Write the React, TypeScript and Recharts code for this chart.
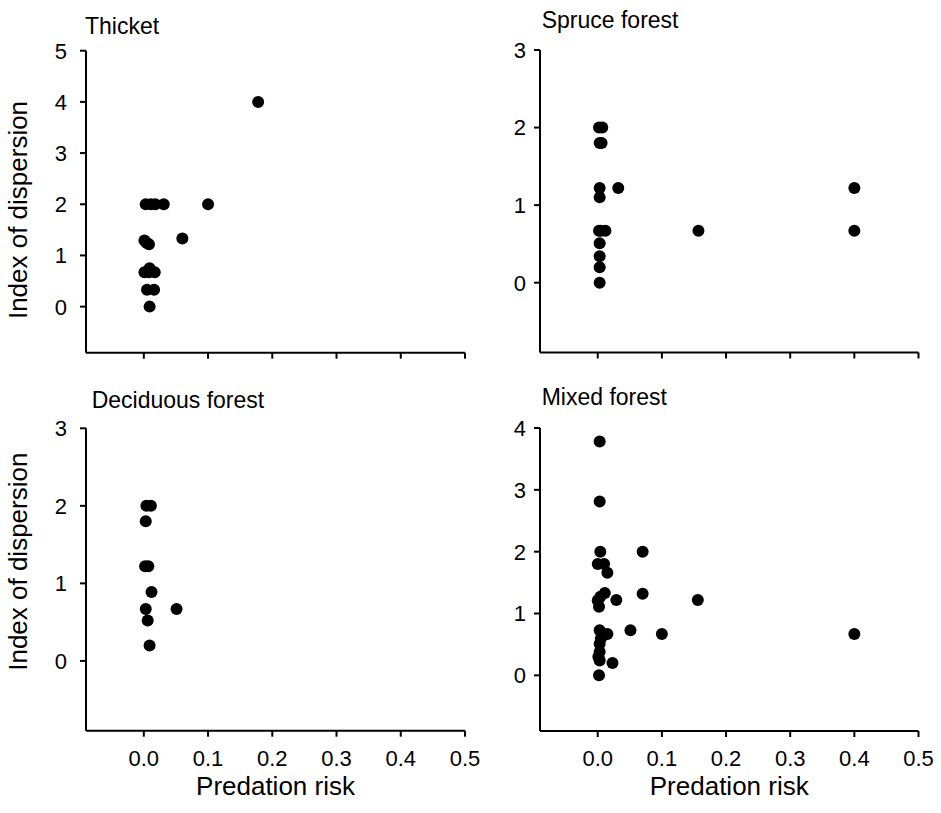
import React from 'react';
import { ScatterChart, Scatter, XAxis, YAxis, Customized } from 'recharts';

const FONT = '"Liberation Sans", Arial, Helvetica, sans-serif';

// Thicket
const thicketRisk = [0.178, 0.003, 0.018, 0.031, 0.1, 0.06, 0.001, 0.004, 0.008, 0.001, 0.009, 0.017, 0.005, 0.016, 0.009, 0.008, 0.011];
const thicketDispersion = [4.0, 2.0, 2.0, 2.0, 2.0, 1.33, 1.29, 1.25, 1.22, 0.67, 0.75, 0.67, 0.33, 0.33, 0.0, 0.67, 2.0];

// Spruce forest
const spruceRisk = [0.002, 0.007, 0.003, 0.006, 0.003, 0.032, 0.003, 0.002, 0.012, 0.005, 0.003, 0.003, 0.003, 0.003, 0.157, 0.4, 0.4];
const spruceDispersion = [2.0, 2.0, 1.8, 1.8, 1.22, 1.22, 1.1, 0.67, 0.67, 0.67, 0.51, 0.34, 0.2, 0.0, 0.67, 1.22, 0.67];

// Deciduous forest
const deciduousRisk = [0.004, 0.011, 0.003, 0.002, 0.007, 0.012, 0.003, 0.051, 0.006, 0.009];
const deciduousDispersion = [2.0, 2.0, 1.8, 1.22, 1.22, 0.89, 0.67, 0.67, 0.52, 0.2];

// Mixed forest
const mixedRisk = [0.003, 0.003, 0.004, 0.07, 0.0, 0.01, 0.015, 0.011, 0.004, 0.0, 0.002, 0.029, 0.07, 0.156, 0.003, 0.015, 0.051, 0.1, 0.4, 0.003, 0.003, 0.003, 0.023, 0.002, 0.001, 0.005];
const mixedDispersion = [3.78, 2.81, 2.0, 2.0, 1.8, 1.8, 1.66, 1.33, 1.27, 1.21, 1.11, 1.22, 1.32, 1.22, 0.73, 0.67, 0.73, 0.67, 0.67, 0.51, 0.38, 0.24, 0.2, 0.0, 0.3, 0.6];

const xTicks = [0, 0.1, 0.2, 0.3, 0.4, 0.5];

const toData = (xs: number[], ys: number[]) => xs.map((x, i) => ({ x, y: ys[i] }));

const Dot = (props: any) => <circle cx={props.cx} cy={props.cy} r={6} fill="#000" />;

const tickTextStyle: React.CSSProperties = { fontSize: '22px', fontFamily: FONT, fill: '#000' };

const makeXTick = (show: boolean) => (props: any) => {
  const { x, y, payload } = props;
  return (
    <g transform={`translate(${x},${y})`}>
      {show ? (
        <text x={0} y={0} dy="0.72em" textAnchor="middle" style={tickTextStyle}>
          {Number(payload.value).toFixed(1)}
        </text>
      ) : null}
    </g>
  );
};

const YTickLabel = (props: any) => {
  const { x, y, payload } = props;
  return (
    <g transform={`translate(${x},${y})`}>
      <text x={0} y={0} dy="0.36em" textAnchor="end" style={tickTextStyle}>
        {String(payload.value)}
      </text>
    </g>
  );
};

type PanelProps = {
  title: string;
  titleX: number;
  titleY: number;
  xs: number[];
  ys: number[];
  yMax: number;
  L0: number;
  T0: number;
  plotLeft: number;
  plotTop: number;
  plotRight: number;
  plotBottom: number;
  showXLabels: boolean;
  showYTitle: boolean;
  yTitleCenter: number;
  yTickMargin: number;
};

const Panel = (p: PanelProps) => {
  const rightPad = 20;
  const width = p.plotRight + rightPad - p.L0;
  const xAxisHeight = 70;
  const height = p.plotBottom + xAxisHeight - p.T0;
  const yTicks = Array.from({ length: p.yMax + 1 }, (_, i) => i);
  const data = toData(p.xs, p.ys);
  const axisStyle = { stroke: '#000', strokeWidth: 2 };
  const XTick = makeXTick(p.showXLabels);
  return (
    <div style={{ position: 'absolute', left: p.L0, top: p.T0, width, height }}>
      <ScatterChart
        width={width}
        height={height}
        margin={{ top: p.plotTop - p.T0, right: rightPad, bottom: 0, left: 0 }}
      >
        <XAxis
          type="number"
          dataKey="x"
          domain={[-0.09, 0.5]}
          ticks={xTicks}
          allowDataOverflow
          height={xAxisHeight}
          axisLine={axisStyle}
          tickLine={axisStyle}
          tickSize={6}
          tickMargin={13}
          tick={<XTick />}
          label={
            p.showXLabels
              ? {
                  content: (lp: any) => {
                    const vb = lp.viewBox;
                    return (
                      <text
                        x={vb.x + vb.width / 2}
                        y={vb.y + 64.3}
                        textAnchor="middle"
                        fontSize={26}
                        fontFamily={FONT}
                        fill="#000"
                      >
                        Predation risk
                      </text>
                    );
                  },
                }
              : undefined
          }
        />
        <YAxis
          type="number"
          dataKey="y"
          domain={[-0.9, p.yMax]}
          ticks={yTicks}
          allowDataOverflow
          width={p.plotLeft - p.L0}
          axisLine={axisStyle}
          tickLine={axisStyle}
          tickSize={6}
          tickMargin={p.yTickMargin}
          tick={<YTickLabel />}
          label={
            p.showYTitle
              ? {
                  content: (lp: any) => {
                    const vb = lp.viewBox;
                    const cx = vb.x + 27.5;
                    const cy = p.yTitleCenter - p.T0;
                    return (
                      <text
                        x={cx}
                        y={cy}
                        transform={`rotate(-90 ${cx} ${cy})`}
                        textAnchor="middle"
                        fontSize={26}
                        fontFamily={FONT}
                        fill="#000"
                      >
                        Index of dispersion
                      </text>
                    );
                  },
                }
              : undefined
          }
        />
        <Scatter data={data} shape={Dot} isAnimationActive={false} />
        <Customized
          component={() => (
            <text
              x={p.titleX - p.L0}
              y={p.titleY - p.T0}
              fontSize={23}
              fontFamily={FONT}
              fill="#000"
            >
              {p.title}
            </text>
          )}
        />
      </ScatterChart>
    </div>
  );
};

export default function App() {
  return (
    <div
      style={{
        position: 'absolute',
        left: 0,
        top: 0,
        width: 941,
        height: 813,
        background: '#fff',
        fontFamily: FONT,
      }}
    >
      <Panel
        title="Thicket"
        titleX={85}
        titleY={34.3}
        xs={thicketRisk}
        ys={thicketDispersion}
        yMax={5}
        L0={0}
        T0={0}
        plotLeft={86}
        plotTop={50.7}
        plotRight={465}
        plotBottom={352.7}
        showXLabels={false}
        showYTitle={true}
        yTitleCenter={210}
        yTickMargin={13}
      />
      <Panel
        title="Spruce forest"
        titleX={541.7}
        titleY={28.3}
        xs={spruceRisk}
        ys={spruceDispersion}
        yMax={3}
        L0={470}
        T0={0}
        plotLeft={540}
        plotTop={50}
        plotRight={918.5}
        plotBottom={352.5}
        showXLabels={false}
        showYTitle={false}
        yTitleCenter={0}
        yTickMargin={8}
      />
      <Panel
        title="Deciduous forest"
        titleX={91.7}
        titleY={407.7}
        xs={deciduousRisk}
        ys={deciduousDispersion}
        yMax={3}
        L0={0}
        T0={380}
        plotLeft={86}
        plotTop={428.3}
        plotRight={465}
        plotBottom={730.7}
        showXLabels={true}
        showYTitle={true}
        yTitleCenter={561.7}
        yTickMargin={13}
      />
      <Panel
        title="Mixed forest"
        titleX={541.7}
        titleY={405}
        xs={mixedRisk}
        ys={mixedDispersion}
        yMax={4}
        L0={470}
        T0={380}
        plotLeft={540}
        plotTop={428}
        plotRight={918.5}
        plotBottom={731}
        showXLabels={true}
        showYTitle={false}
        yTitleCenter={0}
        yTickMargin={8}
      />
    </div>
  );
}
